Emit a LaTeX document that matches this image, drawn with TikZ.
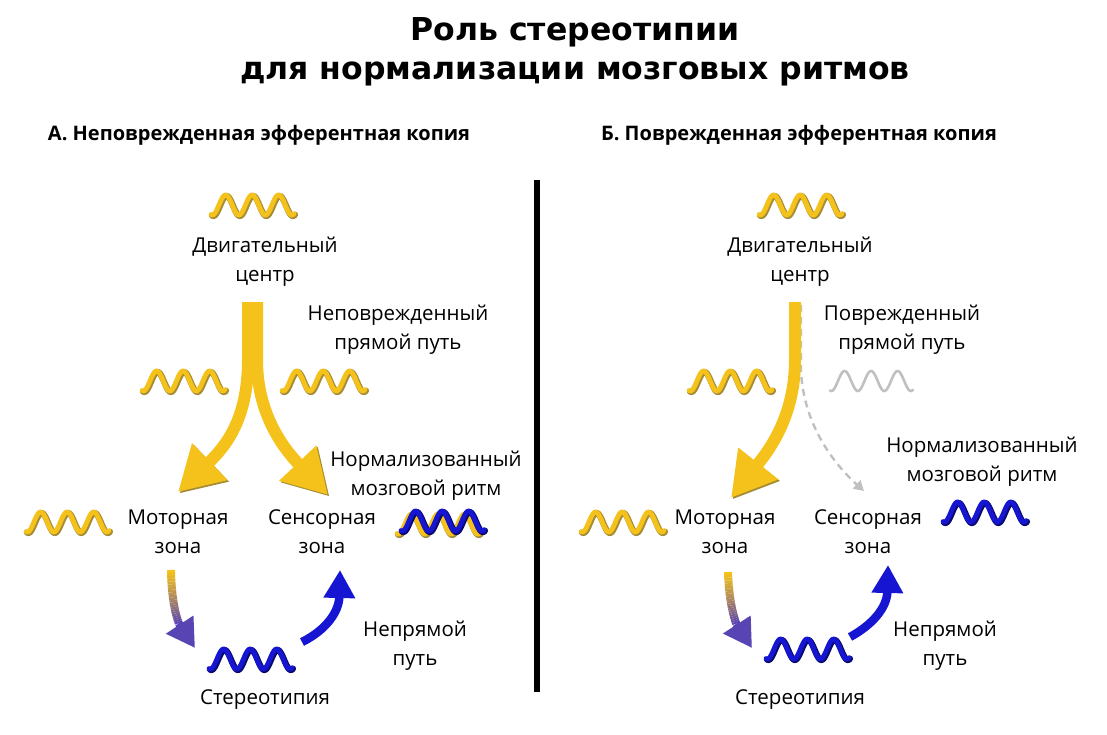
\documentclass[tikz,border=0pt]{standalone}
\usepackage{fontspec}
\setmainfont{Open Sans}
\newfontfamily\titlefont{DejaVu Sans}
\usetikzlibrary{arrows.meta,calc}

\definecolor{gold}{RGB}{244,194,26}
\definecolor{goldshade}{RGB}{165,140,55}
\definecolor{wblue}{RGB}{22,22,210}
\definecolor{wblueshade}{RGB}{10,10,110}
\definecolor{wgrey}{RGB}{192,192,192}
\definecolor{mauve}{RGB}{88,68,178}

\tikzset{
	txt/.style={font=\fontsize{20.5}{29}\selectfont, align=center},
	heading/.style={font=\bfseries\fontsize{20}{24}\selectfont},
	titletxt/.style={font=\titlefont\bfseries\fontsize{31.5}{39}\selectfont, align=center},
	wavefg/.style={line width=4.8pt, line cap=round, line join=round},
	waveshade/.style={line width=6.2pt, line cap=round, line join=round},
	goldarrow/.style={draw=gold, line width=12pt, -{Triangle[width=48pt,length=44pt]},
		preaction={draw=goldshade, transform canvas={shift={(1.5pt,-1.5pt)}}}},
	bluearrow/.style={draw=wblue, line width=8.5pt, -{Triangle[width=30pt,length=28pt]}},
	lostpath/.style={draw=wgrey, line width=2.4pt, dash pattern=on 7pt off 5pt, -{Triangle[width=11pt,length=10pt]}}
}

\newcommand{\sinewave}[4]{
	\draw[waveshade, #4] plot[domain=0:83, samples=90] ({#1+\x+1}, {#2+10*cos(\x*13.585-18)+1});
	\draw[wavefg, #3] plot[domain=0:83, samples=90] ({#1+\x}, {#2+10*cos(\x*13.585-18)});
}
\newcommand{\fadearrow}[3]{
	\foreach \t [evaluate=\t as \u using \t+0.025, evaluate=\t as \p using {int(100-\t*185)}] in {0,0.025,...,0.525}
		\draw[line width=8pt, draw=gold!\p!mauve] ($($(#1)!\t!(#2)$)!\t!($(#2)!\t!(#3)$)$) -- ($($(#1)!\u!(#2)$)!\u!($(#2)!\u!(#3)$)$);
	\draw[line width=8pt, mauve, -{Triangle[width=31pt,length=28pt]}] ($($(#1)!0.55!(#2)$)!0.55!($(#2)!0.55!(#3)$)$) -- (#3);
}

\begin{document}
\begin{tikzpicture}[x=1pt, y=-1pt]
	\useasboundingbox (0,0) rectangle (1107,734);

	\node[titletxt] (title) at (575,52) {Роль стереотипии\\для нормализации мозговых ритмов};
	\node[heading] (headA) at (259,135) {А. Неповрежденная эфферентная копия};
	\node[heading] (headB) at (799,135) {Б. Поврежденная эфферентная копия};
	\draw[line width=6pt] (537,180) -- (537,692);

	% left half
	\node[txt] (centreA) at (265,262) {Двигательный\\центр};
	\node[txt] (directA) at (398,330) {Неповрежденный\\прямой путь};
	\node[txt] (normA) at (426,476) {Нормализованный\\мозговой ритм};
	\node[txt] (motorA) at (178,532) {Моторная\\зона};
	\node[txt] (sensA) at (322,532) {Сенсорная\\зона};
	\node[txt] (indirA) at (415,646) {Непрямой\\путь};
	\node[txt] (stereoA) at (265,700) {Стереотипия};

	\sinewave{211}{205}{gold}{goldshade}
	\sinewave{142}{381}{gold}{goldshade}
	\sinewave{282}{381}{gold}{goldshade}
	\sinewave{26}{522}{gold}{goldshade}
	\sinewave{397}{524}{gold}{goldshade}
	\sinewave{401}{521}{wblue}{wblueshade}
	\sinewave{209}{659}{wblue}{wblueshade}

	\coordinate (tipMA) at (178,492);
	\coordinate (tipSA) at (328,495);
	\draw[goldarrow] (248,302) -- (248,360) .. controls (248,420) and (225,447) .. (tipMA);
	\draw[goldarrow] (257,302) -- (257,360) .. controls (257,420) and (290,455) .. (tipSA);

	\coordinate (fa0) at (171,570);
	\coordinate (fa1) at (172,630);
	\coordinate (fa2) at (195,648);
	\fadearrow{fa0}{fa1}{fa2}
	\coordinate (inA) at (302,642);
	\coordinate (outA) at (340,570);
	\draw[bluearrow] (inA) .. controls (326,630) and (339,612) .. (outA);

	% right half
	\node[txt] (centreB) at (800,262) {Двигательный\\центр};
	\node[txt] (directB) at (902,330) {Поврежденный\\прямой путь};
	\node[txt] (normB) at (982,462) {Нормализованный\\мозговой ритм};
	\node[txt] (motorB) at (725,532) {Моторная\\зона};
	\node[txt] (sensB) at (868,532) {Сенсорная\\зона};
	\node[txt] (indirB) at (945,646) {Непрямой\\путь};
	\node[txt] (stereoB) at (800,700) {Стереотипия};

	\sinewave{759}{205}{gold}{goldshade}
	\sinewave{689}{381}{gold}{goldshade}
	\draw[line width=2.6pt, line cap=round, wgrey] plot[domain=0:83, samples=90] ({830+\x}, {381+10*cos(\x*13.585-18)});
	\sinewave{581}{522}{gold}{goldshade}
	\sinewave{943}{512}{wblue}{wblueshade}
	\sinewave{766}{649}{wblue}{wblueshade}

	\coordinate (dashtop) at (801,305);
	\coordinate (dashtip) at (864,491);
	\draw[lostpath] (dashtop) -- (801,370) .. controls (803,425) and (835,465) .. (dashtip);
	\coordinate (tipMB) at (731,498);
	\draw[goldarrow] (795,302) -- (795,360) .. controls (795,420) and (765,455) .. (tipMB);

	\coordinate (fb0) at (728,572);
	\coordinate (fb1) at (730,630);
	\coordinate (fb2) at (752,648);
	\fadearrow{fb0}{fb1}{fb2}
	\coordinate (inB) at (850,637);
	\coordinate (outB) at (888,565);
	\draw[bluearrow] (inB) .. controls (872,625) and (887,608) .. (outB);
\end{tikzpicture}
\end{document}
